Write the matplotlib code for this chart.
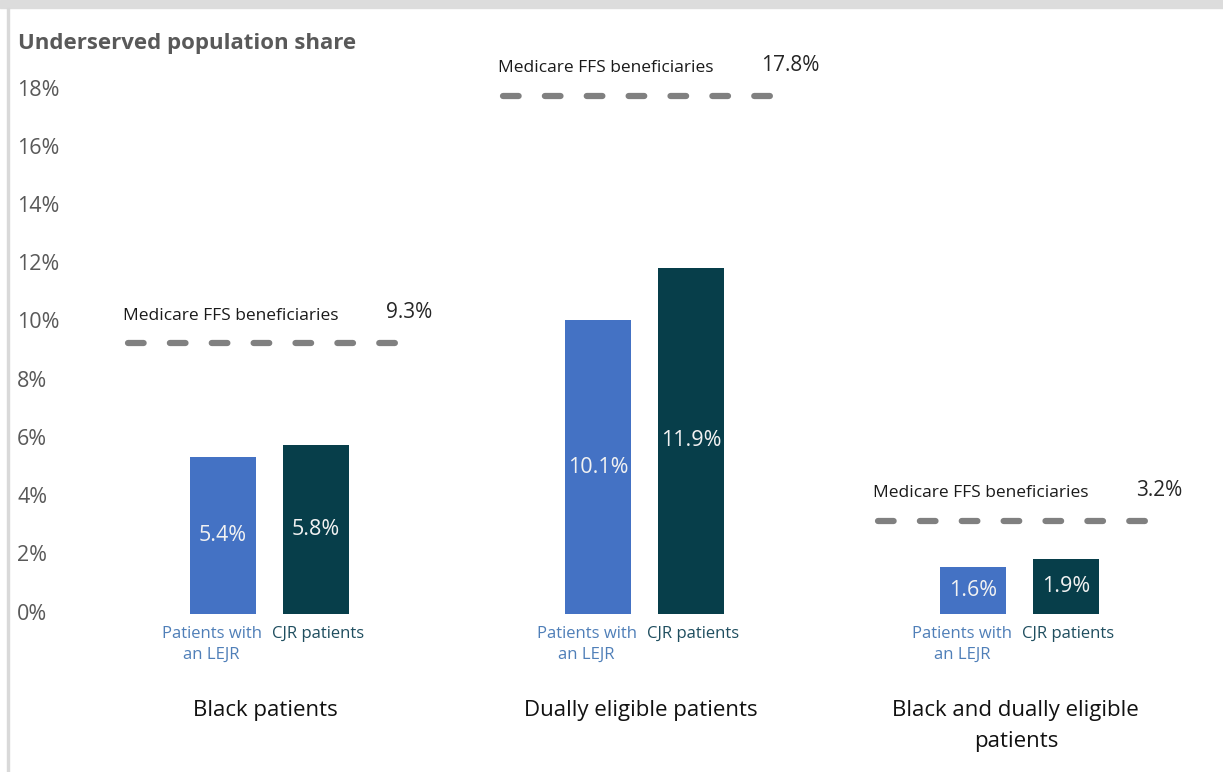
import matplotlib.pyplot as plt
from matplotlib.patches import Rectangle
from matplotlib.transforms import blended_transform_factory
import numpy as np

plt.rcParams['font.family'] = ['Open Sans', 'DejaVu Sans']

groups = ['Black patients', 'Dually eligible patients', 'Black and dually eligible\npatients']
lejr = [5.4, 10.1, 1.6]
cjr = [5.8, 11.9, 1.9]
ffs = [9.3, 17.8, 3.2]
series_names = ['Patients with\nan LEJR', 'CJR patients']
yticks = [0, 2, 4, 6, 8, 10, 12, 14, 16, 18]

blue = '#4472c4'
dark = '#073e4a'
grey = '#595959'

fig = plt.figure(figsize=(12.23, 7.72), dpi=100)
ax = fig.add_axes([80/1223, (772-614)/772, 1120/1223, 544/772])
ax.set_xlim(-0.505, 2.481)
ax.set_ylim(0, 18.69)
ax.axis('off')

x = np.arange(len(groups))
w = 0.176
off = 0.124

b1 = ax.bar(x - off, lejr, w, color=blue)
b2 = ax.bar(x + off, cjr, w, color=dark)

for bars, vals in [(b1, lejr), (b2, cjr)]:
    for b, v in zip(bars, vals):
        ax.text(b.get_x() + b.get_width()/2, v/2, f'{v}%', ha='center', va='center',
                color='#f2f2f2', fontsize=15.5)

# FFS reference lines
for xi, v in zip(x, ffs):
    ax.plot([xi - 0.377, xi + 0.35], [v, v], color='#808080', lw=4.5,
            dashes=(2.5, 4.2), solid_capstyle='round', dash_capstyle='round')
    ax.text(xi - 0.39, v + 0.95, 'Medicare FFS beneficiaries', ha='left', va='center',
            fontsize=12.5, color='#1a1a1a')
    ax.text(xi + 0.31, v + 1.05, f'{v}%', ha='left', va='center',
            fontsize=15, color='#262626')

# series labels under bars
for xi in x:
    ax.text(xi - off - 0.03, -0.4, series_names[0], ha='center', va='top',
            fontsize=12, color='#4f7fb8', linespacing=1.45)
    ax.text(xi + off + 0.005, -0.4, series_names[1], ha='center', va='top',
            fontsize=12, color='#1f4e5f')
    ax.text(xi - 0.01, -2.95, groups[xi],
            ha='center', va='top', fontsize=16, color='#111111', linespacing=1.65)

# y tick labels, left aligned
lab_tr = blended_transform_factory(fig.transFigure, ax.transData)
for t in yticks:
    ax.text(17/1223, t, f'{t}%', fontsize=15.5, color=grey, ha='left', va='center',
            transform=lab_tr)

fig.text(18/1223, 1 - 43/772, 'Underserved population share', fontsize=16, fontweight='bold',
         color=grey, ha='left', va='center')

# frame of the screenshot
fig.patches.append(Rectangle((0, 1 - 8/772), 1, 8/772, transform=fig.transFigure,
                             color='#dcdcdc', zorder=0))
fig.patches.append(Rectangle((7/1223, 0), 1.5/1223, 1 - 8/772, transform=fig.transFigure,
                             color='#d9d9d9', zorder=0))

fig.savefig('out.png', dpi=100)
